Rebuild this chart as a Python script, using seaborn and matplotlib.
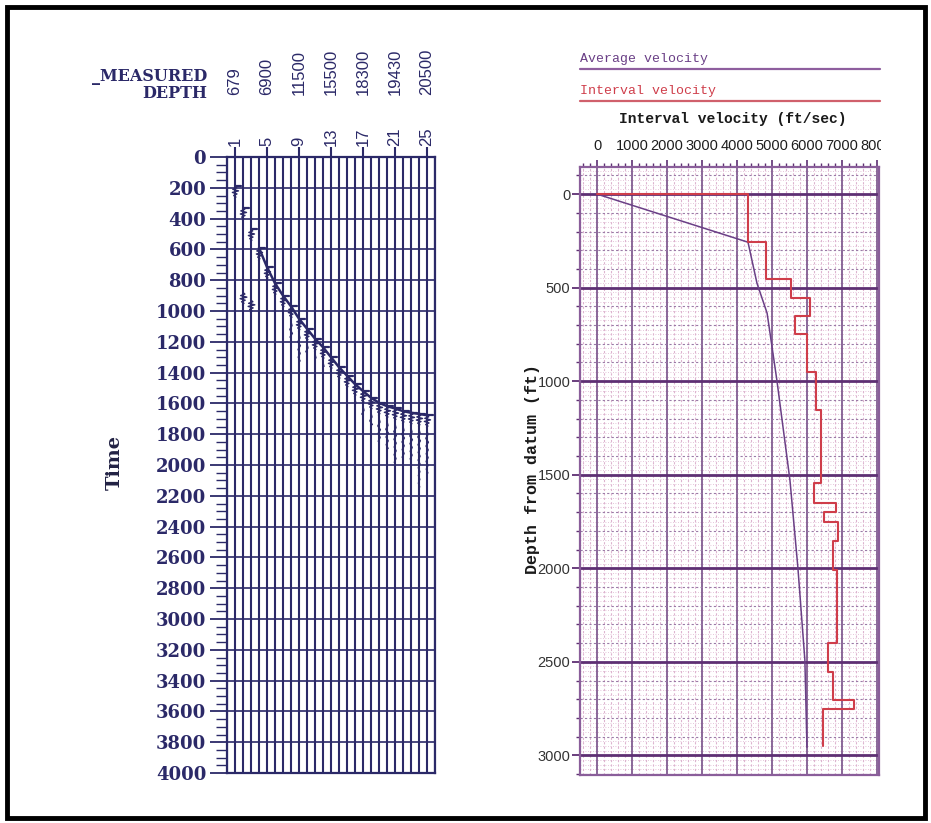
import numpy as np
import pandas as pd
import matplotlib
matplotlib.use("Agg")
import matplotlib.pyplot as plt
import seaborn as sns
from matplotlib.ticker import MultipleLocator, FixedLocator
from matplotlib.transforms import blended_transform_factory, Bbox, TransformedBbox
from matplotlib.patches import Rectangle
from matplotlib.lines import Line2D

# ---------------- VSP record (left panel) ----------------
trace_numbers = list(range(1, 26))
first_break_ms = [190, 330, 470, 590, 715, 820, 900, 970, 1050, 1115, 1180, 1235,
                  1300, 1365, 1420, 1475, 1520, 1563, 1596, 1618, 1633, 1650,
                  1661, 1668, 1677]
coda_end_ms = [250, 420, 560, 690, 800, 900, 990, 1180, 1340, 1280, 1320, 1360,
               1400, 1450, 1520, 1600, 1680, 1760, 1860, 1900, 2000, 1950,
               1980, 2160, 2060]
late_event_traces = [2, 3]
late_event_ms = [880, 930]
wavelet = [0.0, 0.4, -0.5, 0.8, -0.6, 0.45, -0.3, 0.2, -0.1, 0.0]
coda_amp = [0.0, 0.25, -0.3, 0.35, -0.25, 0.3, -0.2, 0.28, -0.22, 0.25, -0.18,
            0.22, -0.15, 0.2, -0.15, 0.18, -0.12, 0.15, -0.1, 0.12, -0.08, 0.1, 0.0]
label_traces = [1, 5, 9, 13, 17, 21, 25]
measured_depth_ft = [679, 6900, 11500, 15500, 18300, 19430, 20500]
time_ticks = list(range(0, 4001, 200))

# ---------------- velocity survey (right panel) ----------------
avg_depth_ft = [0, 257, 476, 636, 995, 1530, 1995, 2490, 2957]
avg_vel_fps = [0, 4314, 4570, 4860, 5140, 5514, 5740, 5940, 6000]
interval_top_ft = [0, 257, 455, 555, 652, 750, 950, 1155, 1545, 1653, 1700,
                   1753, 1855, 2010, 2400, 2555, 2705, 2750]
interval_vel_fps = [4310, 4830, 5540, 6090, 5660, 6000, 6260, 6400, 6200, 6830,
                    6490, 6890, 6740, 6860, 6600, 6740, 7340, 6460]
interval_base_ft = 2950
vel_ticks = list(range(0, 8001, 1000))
depth_ticks = list(range(0, 3001, 500))

NAVY = "#2b2968"
PURPLE = "#5e2f73"
PINK = "#ddb3cf"
RED = "#cf3d4a"
AVG = "#6a3f86"

sns.set_theme(style="white")
plt.rcParams["font.family"] = ["DejaVu Sans"]

W, H = 931, 823
fig = plt.figure(figsize=(W / 100, H / 100), dpi=100)
fig.patch.set_facecolor("white")

def fx(px):
    return px / W

def fy(py):
    return 1 - py / H

# outer frame
fig.patches.append(Rectangle((fx(7), fy(818)), fx(918), 811 / H, transform=fig.transFigure,
                             fill=False, ec="black", lw=3.5))

# ======== left panel: wiggle traces ========
ax1 = fig.add_axes([fx(227), fy(773), 208 / W, 616 / H])
ax1.set_xlim(0, 26)
ax1.set_ylim(4000, 0)
ax1.set_facecolor("white")

ax1.xaxis.set_major_locator(FixedLocator(label_traces))
ax1.xaxis.set_minor_locator(MultipleLocator(1))
ax1.xaxis.tick_top()
ax1.set_xticklabels([str(t) for t in label_traces], rotation=90,
                    fontsize=12, color=NAVY, family="Liberation Sans")
ax1.tick_params(axis="x", which="major", top=True, bottom=False, length=7,
                width=1.5, color=NAVY, pad=1)
ax1.tick_params(axis="x", which="minor", top=False, bottom=False, length=0)
ax1.set_yticks(time_ticks)
ax1.yaxis.set_minor_locator(MultipleLocator(50))
ax1.set_yticklabels([str(t) for t in time_ticks], family="DejaVu Serif",
                    fontweight="bold", fontsize=13, color=NAVY)
ax1.tick_params(axis="y", which="major", left=True, length=12, width=1.3,
                color=NAVY, pad=3)
ax1.tick_params(axis="y", which="minor", left=True, length=8, width=1.0, color=NAVY)
ax1.grid(True, which="both", axis="x", color=NAVY, lw=1.5)
ax1.grid(True, which="major", axis="y", color=NAVY, lw=1.2)
ax1.grid(False, which="minor", axis="y")
for s in ax1.spines.values():
    s.set_color(NAVY)
    s.set_linewidth(1.6)

# wiggles: direct arrival wavelet followed by a decaying coda
for tr, t0, tend in zip(trace_numbers, first_break_ms, coda_end_ms):
    ts, xs = [], []
    for i, a in enumerate(wavelet):
        ts.append(t0 + 10 * i)
        xs.append(tr + 0.55 * a)
    for j, a in enumerate(coda_amp):
        t = t0 + 100 + 25 * j
        if t > tend:
            break
        ts.append(t)
        xs.append(tr + 0.5 * a)
    ax1.plot(xs, ts, color=NAVY, lw=1.0)
    ax1.plot([tr, tr + 0.7], [t0, t0], color=NAVY, lw=1.6)

for tr, t0 in zip(late_event_traces, late_event_ms):
    ts = [t0 + 10 * i for i in range(len(wavelet))]
    xs = [tr + 0.6 * a for a in wavelet]
    ax1.plot(xs, ts, color=NAVY, lw=1.0)

picks = pd.DataFrame({"trace": trace_numbers[3:], "time": first_break_ms[3:]})
sns.lineplot(data=picks, x="trace", y="time", sort=False, estimator=None,
             color=NAVY, lw=1.8, ax=ax1, legend=False)
ax1.set_xlabel("")
ax1.set_ylabel("")

# measured depth annotation above the trace numbers
btr = blended_transform_factory(ax1.transData, ax1.transAxes)
for tr, md in zip(label_traces, measured_depth_ft):
    ax1.text(tr, 1.1006, str(md), transform=btr, rotation=90, ha="center",
             va="bottom", fontsize=12, color=NAVY, family="Liberation Sans")
fig.text(fx(207), fy(81), "_MEASURED", ha="right", va="baseline",
         family="DejaVu Serif", fontweight="bold", fontsize=11.5, color=NAVY)
fig.text(fx(207), fy(98), "DEPTH", ha="right", va="baseline",
         family="DejaVu Serif", fontweight="bold", fontsize=11.5, color=NAVY)
fig.text(fx(115), fy(462), "Time", rotation=90, ha="center", va="center",
         family="DejaVu Serif", fontweight="bold", fontsize=14, color="#222244")

# ======== right panel: velocity vs depth ========
ax2 = fig.add_axes([fx(580), fy(775), 299 / W, 608 / H])
ax2.set_xlim(-490, 8060)
ax2.set_ylim(3105, -145)
ax2.set_facecolor("white")

# fine background ruling
for d in np.arange(-125, 3105, 25):
    if d % 100 != 0:
        ax2.axhline(d, color=PINK, lw=0.6, ls=(0, (1, 2)), zorder=0.5)

ax2.xaxis.tick_top()
ax2.set_xticks(vel_ticks)
ax2.xaxis.set_minor_locator(MultipleLocator(200))
xlabs = ax2.set_xticklabels([str(v) for v in vel_ticks], fontsize=10.5,
                            color="#1e1e1e", family="Liberation Sans")
ax2.tick_params(axis="x", which="major", top=True, bottom=False, length=5,
                width=1.2, color=PURPLE, pad=5)
ax2.tick_params(axis="x", which="minor", top=True, bottom=False, length=3,
                width=1.0, color=PURPLE)
ax2.set_yticks(depth_ticks)
ax2.yaxis.set_minor_locator(MultipleLocator(100))
ax2.set_yticklabels([str(d) for d in depth_ticks], fontsize=10.5, color="#333333",
                    family="Liberation Sans")
ax2.tick_params(axis="y", which="major", left=True, length=6, width=1.3,
                color=PURPLE, pad=1)
ax2.tick_params(axis="y", which="minor", left=True, length=3, width=1.0, color=PURPLE)

ax2.grid(True, which="major", axis="x", color=PURPLE, lw=1.2, alpha=0.85)
ax2.grid(True, which="major", axis="y", color=PURPLE, lw=2.0)
ax2.grid(True, which="minor", axis="x", color=PINK, lw=0.8, ls=(0, (2, 2)))
ax2.grid(True, which="minor", axis="y", color="#9a7aa6", lw=0.8, ls=(0, (2, 2)))
for s in ax2.spines.values():
    s.set_color("#8a5e9a")
    s.set_linewidth(1.6)

# clip the last velocity label at the panel edge
clip = TransformedBbox(Bbox([[0, 0], [881 / W, 1]]), fig.transFigure)
for lab in xlabs:
    lab.set_clip_box(clip)
    lab.set_clip_on(True)

avg = pd.DataFrame({"velocity": avg_vel_fps, "depth": avg_depth_ft})
sns.lineplot(data=avg, x="velocity", y="depth", sort=False, estimator=None,
             color=AVG, lw=1.1, ax=ax2, legend=False, zorder=3)

step_v, step_d = [0], [0]
bases = interval_top_ft[1:] + [interval_base_ft]
for v, top, base in zip(interval_vel_fps, interval_top_ft, bases):
    step_v += [v, v]
    step_d += [top, base]
inter = pd.DataFrame({"velocity": step_v, "depth": step_d})
sns.lineplot(data=inter, x="velocity", y="depth", sort=False, estimator=None,
             color=RED, lw=1.5, ax=ax2, legend=False, zorder=4)
ax2.set_xlabel("")
ax2.set_ylabel("")

fig.text(fx(733), fy(119), "Interval velocity (ft/sec)", ha="center", va="center",
         family="Liberation Mono", fontweight="bold", fontsize=10.5, color="#1a1a1a")
fig.text(fx(533), fy(469), "Depth from datum (ft)", rotation=90, ha="center",
         va="center", family="Liberation Mono", fontweight="bold", fontsize=12,
         color="#1a1a1a")

# series key
fig.text(fx(580), fy(62), "Average velocity", ha="left", va="baseline",
         family="Liberation Mono", fontsize=9.5, color=AVG)
fig.add_artist(Line2D([fx(580), fx(880)], [fy(69), fy(69)], transform=fig.transFigure,
                      color="#8e5e9e", lw=1.6))
fig.text(fx(580), fy(94), "Interval velocity", ha="left", va="baseline",
         family="Liberation Mono", fontsize=9.5, color=RED)
fig.add_artist(Line2D([fx(580), fx(880)], [fy(101), fy(101)], transform=fig.transFigure,
                      color="#d0606c", lw=1.6))

fig.savefig("out.png", dpi=100, facecolor="white")
